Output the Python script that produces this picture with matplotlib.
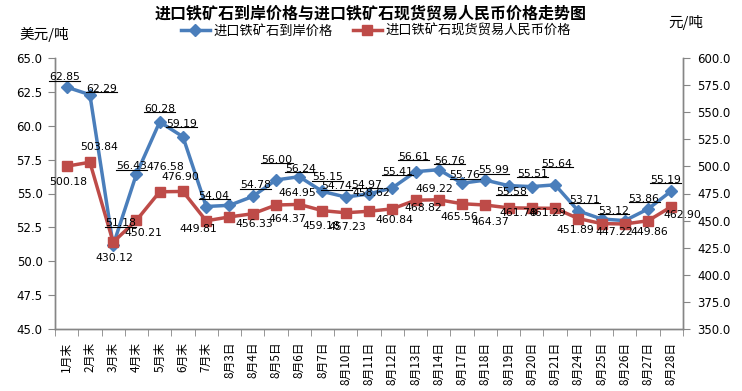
import matplotlib
matplotlib.use('Agg')
import matplotlib.pyplot as plt
import numpy as np
from matplotlib.lines import Line2D
from matplotlib.transforms import IdentityTransform

plt.rcParams['font.family'] = ['Noto Sans CJK SC', 'DejaVu Sans']

categories = ['1月末', '2月末', '3月末', '4月末', '5月末', '6月末', '7月末',
              '8月3日', '8月4日', '8月5日', '8月6日', '8月7日', '8月10日',
              '8月11日', '8月12日', '8月13日', '8月14日', '8月17日', '8月18日',
              '8月19日', '8月20日', '8月21日', '8月24日', '8月25日', '8月26日',
              '8月27日', '8月28日']
usd_price = [62.85, 62.29, 51.18, 56.43, 60.28, 59.19, 54.04, 54.13, 54.78,
             56.00, 56.24, 55.15, 54.74, 54.97, 55.41, 56.61, 56.76, 55.76,
             55.99, 55.58, 55.51, 55.64, 53.71, 53.12, 53.00, 53.86, 55.19]
rmb_price = [500.18, 503.84, 430.12, 450.21, 476.58, 476.90, 449.81, 453.4,
             456.33, 464.37, 464.95, 459.18, 457.23, 458.62, 460.84, 468.82,
             469.22, 465.56, 464.37, 461.78, 461.5, 461.29, 451.89, 447.22,
             446.9, 449.86, 462.90]
usd_name = '进口铁矿石到岸价格'
rmb_name = '进口铁矿石现货贸易人民币价格'

# label offsets in pixels (dx, dy up); None = no label shown
usd_off = [(-2, 10), (12, 6), (7, 22), (-5, 8), (0, 13), (-1, 13), (8, 11), None,
           (3, 11), (1, 20), (1, 8), (5, 14), (-9, 11), (-2, 9), (5, 16), (-2, 15),
           (11, 9), (3, 8), (8, 10), (3, -6), (1, 13), (2, 21), (6, 11), (12, 8),
           None, (-4, 10), (-6, 11)]
rmb_off = [(2, -16), (9, 15), (1, -16), (7, -13), (6, 25), (-3, 14), (-8, -8), None,
           (2, -10), (11, -14), (-2, 11), (-1, -15), (2, -14), (2, 18), (2, -11),
           (8, -8), (-4, 11), (-3, -13), (5, -17), (10, -5), None, (-8, -5),
           (-3, -11), (13, -8), None, (1, -11), (11, -8)]

blue = '#4A7EBB'
red = '#BE4B48'
spine_col = '#868686'
num_font = ['DejaVu Sans']

W, H = 742, 391
fig = plt.figure(figsize=(W / 100, H / 100), dpi=100)
ax = fig.add_axes([55 / W, 1 - 329 / H, (683 - 55) / W, (329 - 58) / H])
ax2 = ax.twinx()

x = np.arange(len(categories))
ax.plot(x, usd_price, color=blue, lw=2.5, marker='D', ms=6.5, mec=blue, mfc=blue)
ax2.plot(x, rmb_price, color=red, lw=2.5, marker='s', ms=7.5, mec=red, mfc=red)

ax.set_xlim(-0.5, len(categories) - 0.5)
ax.set_ylim(45, 65)
ax2.set_ylim(350, 600)
left_ticks = np.arange(45, 65.01, 2.5)
right_ticks = np.arange(350, 600.1, 25)
ax.set_yticks(left_ticks)
ax.set_yticklabels([f'{v:.1f}' for v in left_ticks], family=num_font, fontsize=8.5)
ax2.set_yticks(right_ticks)
ax2.set_yticklabels([f'{v:.1f}' for v in right_ticks], family=num_font, fontsize=8.5)

ax.set_xticks(x)
ax.set_xticklabels(categories, rotation=90, fontsize=8.5, va='top')
ax.set_xticks(np.arange(-0.5, len(categories)), minor=True)
ax.tick_params(axis='x', which='major', length=0, pad=9)
ax.tick_params(axis='x', which='minor', length=5, color=spine_col, direction='out')
ax.tick_params(axis='y', length=5, color=spine_col, pad=4)
ax2.tick_params(axis='y', length=5, color=spine_col, pad=5)

for a in (ax, ax2):
    a.spines['top'].set_visible(False)
    for s in ('left', 'right', 'bottom'):
        a.spines[s].set_color(spine_col)
        a.spines[s].set_linewidth(1.0)

usd_texts = []
for i, v in enumerate(usd_price):
    if usd_off[i] is None:
        continue
    t = ax2.annotate(f'{v:.2f}', (i, v), xycoords=ax.transData,
                     xytext=usd_off[i], textcoords='offset pixels',
                     ha='center', va='center', fontsize=7.8, family=num_font,
                     zorder=10)
    usd_texts.append(t)
for i, v in enumerate(rmb_price):
    if rmb_off[i] is None:
        continue
    ax2.annotate(f'{v:.2f}', (i, v), xycoords='data',
                 xytext=rmb_off[i], textcoords='offset pixels',
                 ha='center', va='center', fontsize=7.8, family=num_font,
                 zorder=10)

fig.text(0.5, 1 - 13 / H, '进口铁矿石到岸价格与进口铁矿石现货贸易人民币价格走势图',
         ha='center', va='center', fontsize=11.5, fontweight='bold')
fig.text(44 / W, 1 - 34 / H, '美元/吨', ha='center', va='center', fontsize=10.5)
fig.text(686 / W, 1 - 22 / H, '元/吨', ha='center', va='center', fontsize=10.5)

handles = [Line2D([], [], color=blue, lw=2.5, marker='D', ms=6.5),
           Line2D([], [], color=red, lw=2.5, marker='s', ms=7.5)]
fig.legend(handles, [usd_name, rmb_name], loc='center', ncol=2,
           bbox_to_anchor=(376 / W, 1 - 31 / H), frameon=False, fontsize=9.5,
           handlelength=2.2, columnspacing=1.5, handletextpad=0.3,
           borderaxespad=0, borderpad=0)

# underline the blue data labels
fig.canvas.draw()
renderer = fig.canvas.get_renderer()
for t in usd_texts:
    bb = t.get_window_extent(renderer)
    y = bb.y0 + 1.5
    fig.add_artist(Line2D([bb.x0, bb.x1], [y, y], color='black', lw=0.8,
                          transform=IdentityTransform()))

fig.savefig('out.png', dpi=100)
